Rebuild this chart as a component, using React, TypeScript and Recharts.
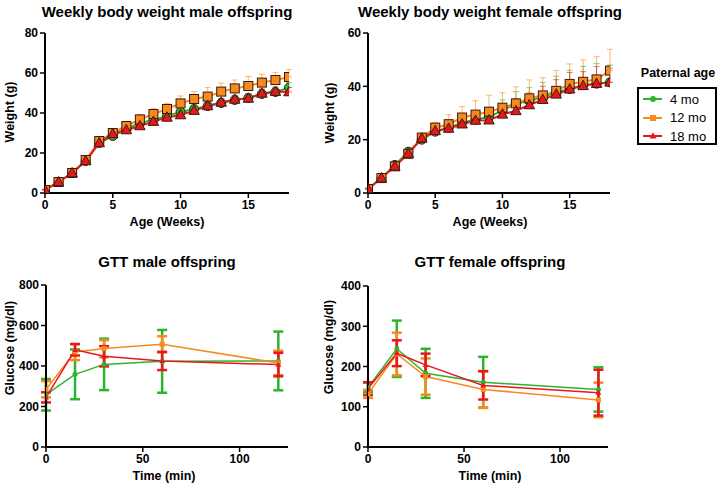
import React from 'react';
import { ComposedChart, Line, XAxis, YAxis, ErrorBar } from 'recharts';

// ---- data ----
const weeks = [0, 1, 2, 3, 4, 5, 6, 7, 8, 9, 10, 11, 12, 13, 14, 15, 16, 17, 18];

const maleW4 = [1.5, 5.5, 10, 16, 25, 28.5, 32, 35, 36.5, 38.5, 40.5, 42, 43.5, 45, 46.5, 47.5, 49.5, 50.5, 52.7];
const maleW12 = [1.5, 5.5, 10, 16.5, 26, 30, 33.5, 36.8, 39.5, 42, 44.8, 47, 48.2, 50.7, 52.3, 53.5, 55.2, 56.5, 58];
const maleW18 = [1.5, 5.5, 10, 16, 25, 29.5, 31.5, 33.5, 35.7, 37.8, 39, 41.2, 43.5, 45.3, 46.8, 47.3, 49.8, 50.7, 50.5];
const maleE4 = [0.3, 0.5, 0.6, 0.8, 1, 1.2, 1.3, 1.5, 1.6, 1.7, 1.8, 2, 2, 2, 2.2, 2.2, 2.3, 2.4, 2.5];
const maleE12 = [0.3, 0.5, 0.8, 1, 1.5, 1.5, 2, 2.5, 2.8, 2.8, 3.7, 3.7, 4.5, 4.2, 4.2, 4.7, 4.2, 3.8, 3.8];
const maleE18 = [0.3, 0.5, 0.6, 0.8, 1, 1.2, 1.3, 1.4, 1.5, 1.6, 1.7, 1.8, 1.9, 2, 2, 2.1, 2.2, 2.2, 2.3];

const femW4 = [1.5, 5.6, 10.5, 15.5, 20, 23, 24.5, 26.4, 27.5, 28.6, 30.9, 33.5, 34.5, 36, 37.8, 39, 40.5, 41, 41.5];
const femW12 = [1.5, 5.6, 10, 14.7, 20.8, 24.5, 25.8, 28.3, 29.4, 30.5, 32, 33.6, 35.5, 36.6, 38.3, 40.9, 41.7, 42.6, 45.9];
const femW18 = [1.5, 5.6, 10, 14.8, 20.5, 23.3, 24.2, 25.8, 27.2, 27.3, 29.5, 30.8, 33, 35, 37, 38.9, 40.2, 41, 41.5];
const femE4 = [0.3, 0.5, 1.5, 1.2, 1.5, 1.5, 2, 2.5, 3, 3.5, 4, 4.5, 5, 5.5, 6, 7, 7, 7.5, 6.5];
const femE12 = [0.3, 0.5, 1, 1.2, 1.5, 2, 3.5, 4.1, 5.2, 6.2, 5.6, 6.2, 6.9, 6.6, 7.6, 7.5, 8.2, 8.5, 8];
const femE18 = [0.3, 0.5, 1, 1.2, 1.5, 1.8, 2, 2.5, 3, 3.5, 4, 4.5, 4.5, 5, 5.5, 6.3, 5.3, 6.4, 5.3];

const gttTimes = [0, 15, 30, 60, 120];

const gttMale4 = [258, 359, 408, 423, 425];
const gttMale12 = [285, 469, 486, 507, 415];
const gttMale18 = [245, 480, 448, 425, 407];
const gttMaleE4 = [78, 123, 127, 155, 145];
const gttMaleE12 = [40, 40, 42, 40, 60];
const gttMaleE18 = [25, 28, 50, 45, 58];

const gttFem4 = [148, 244, 183, 161, 143];
const gttFem12 = [132, 231, 175, 143, 117];
const gttFem18 = [145, 233, 204, 153, 135];
const gttFemE4 = [12, 70, 61, 63, 55];
const gttFemE12 = [10, 53, 45, 46, 43];
const gttFemE18 = [16, 32, 28, 35, 57];

const legendItems = ['4 mo', '12 mo', '18 mo'];

// ---- styling ----
const GREEN = '#2cb52c';
const ORANGE = '#f78a1d';
const RED = '#e8171e';
const FONT = '"Liberation Sans", Arial, sans-serif';

const series = [
  { key: 'a', err: 'ea', color: GREEN, kind: 'circle' },
  { key: 'b', err: 'eb', color: ORANGE, kind: 'square' },
  { key: 'c', err: 'ec', color: RED, kind: 'triangle' },
];

const buildRows = (xs: number[], a: number[], b: number[], c: number[], ea: number[], eb: number[], ec: number[], upOnly: boolean) =>
  xs.map((x, i) => ({
    x,
    a: a[i],
    b: b[i],
    c: c[i],
    ea: upOnly ? [0, ea[i]] : ea[i],
    eb: upOnly ? [0, eb[i]] : eb[i],
    ec: upOnly ? [0, ec[i]] : ec[i],
  }));

const maleRows = buildRows(weeks, maleW4, maleW12, maleW18, maleE4, maleE12, maleE18, true);
const femRows = buildRows(weeks, femW4, femW12, femW18, femE4, femE12, femE18, true);
const gttMaleRows = buildRows(gttTimes, gttMale4, gttMale12, gttMale18, gttMaleE4, gttMaleE12, gttMaleE18, false);
const gttFemRows = buildRows(gttTimes, gttFem4, gttFem12, gttFem18, gttFemE4, gttFemE12, gttFemE18, false);

const Marker = ({ cx, cy, kind, fill, stroke, size }: any) => {
  if (cx == null || cy == null) return null;
  const h = size / 2;
  if (kind === 'circle') return <circle cx={cx} cy={cy} r={h} fill={fill} stroke={stroke} strokeWidth={1} />;
  if (kind === 'square')
    return <rect x={cx - h} y={cy - h} width={size} height={size} fill={fill} stroke={stroke} strokeWidth={1} />;
  const pts = `${cx},${cy - size * 0.62} ${cx - size * 0.58},${cy + size * 0.42} ${cx + size * 0.58},${cy + size * 0.42}`;
  return <polygon points={pts} fill={fill} stroke={stroke} strokeWidth={1} />;
};

const tickStyle = { fill: '#000', fontSize: 12, fontWeight: 700, fontFamily: FONT };

interface PanelProps {
  left: number;
  top: number;
  yAxisW: number;
  plotW: number;
  plotH: number;
  marginTop: number;
  data: any[];
  xDomain: number[];
  xTicks: number[];
  yDomain: number[];
  yTicks: number[];
  gtt?: boolean;
}

const Panel = ({ left, top, yAxisW, plotW, plotH, marginTop, data, xDomain, xTicks, yDomain, yTicks, gtt }: PanelProps) => {
  const right = 8;
  const xh = 22;
  return (
    <div style={{ position: 'absolute', left, top }}>
      <ComposedChart
        width={yAxisW + plotW + right}
        height={marginTop + plotH + xh}
        data={data}
        margin={{ top: marginTop, right, left: 0, bottom: 0 }}
      >
        <XAxis
          dataKey="x"
          type="number"
          domain={xDomain}
          ticks={xTicks}
          height={xh}
          axisLine={{ stroke: '#000', strokeWidth: 2 }}
          tickLine={{ stroke: '#000', strokeWidth: 1.5 }}
          tickSize={5}
          tick={tickStyle}
          allowDataOverflow
        />
        <YAxis
          type="number"
          domain={yDomain}
          ticks={yTicks}
          width={yAxisW}
          axisLine={{ stroke: '#000', strokeWidth: 2 }}
          tickLine={{ stroke: '#000', strokeWidth: 1.5 }}
          tickSize={5}
          tick={tickStyle}
          allowDataOverflow
        />
        {series.map((s) => (
          <Line
            key={s.key}
            dataKey={s.key}
            type="linear"
            stroke={s.color}
            strokeWidth={gtt ? 1.5 : 2}
            isAnimationActive={false}
            dot={(p: any) => (
              <Marker
                key={`${s.key}-${p.index}`}
                cx={p.cx}
                cy={p.cy}
                kind={s.kind}
                fill={s.color}
                stroke={gtt ? 'none' : '#3a1a10'}
                size={gtt ? 5 : 9}
              />
            )}
            activeDot={false}
          >
            <ErrorBar
              dataKey={s.err}
              direction="y"
              width={gtt ? 5 : 3}
              stroke={s.color}
              strokeWidth={gtt ? 2.5 : 1}
              strokeOpacity={gtt ? 1 : 0.6}
              isAnimationActive={false}
            />
          </Line>
        ))}
      </ComposedChart>
    </div>
  );
};

const Txt = ({ x, y, children, size = 12.5, rotate = false, weight = 700 }: any) => (
  <div
    style={{
      position: 'absolute',
      left: x,
      top: y,
      transform: `translate(-50%, -50%)${rotate ? ' rotate(-90deg)' : ''}`,
      whiteSpace: 'nowrap',
      fontFamily: FONT,
      fontWeight: weight,
      fontSize: size,
      color: '#000',
      lineHeight: 1,
    }}
  >
    {children}
  </div>
);

const Legend = () => {
  const colors = [GREEN, ORANGE, RED];
  const kinds = ['circle', 'square', 'triangle'];
  return (
    <>
      <Txt x={678} y={73} size={12.5}>Paternal age</Txt>
      <div
        style={{
          position: 'absolute',
          left: 637,
          top: 87,
          width: 76,
          height: 54,
          border: '2px solid #000',
          background: '#fff',
        }}
      >
        {legendItems.map((name, i) => (
          <div key={name} style={{ position: 'absolute', left: 3, top: 2 + i * 18.5, height: 16, display: 'flex', alignItems: 'center' }}>
            <svg width={22} height={16}>
              <line x1={1} y1={8} x2={20} y2={8} stroke={colors[i]} strokeWidth={2} />
              <Marker cx={11} cy={8} kind={kinds[i]} fill={colors[i]} stroke="none" size={6} />
            </svg>
            <span style={{ fontFamily: FONT, fontSize: 13, marginLeft: 6, color: '#000' }}>{name}</span>
          </div>
        ))}
      </div>
    </>
  );
};

export default function App() {
  return (
    <div style={{ position: 'absolute', left: 0, top: 0, width: 720, height: 488, background: '#fff', overflow: 'hidden' }}>
      <Txt x={167} y={11} size={15}>Weekly body weight male offspring</Txt>
      <Txt x={490} y={11} size={15}>Weekly body weight female offspring</Txt>
      <Txt x={167} y={261} size={15}>GTT male offspring</Txt>
      <Txt x={490} y={261} size={15}>GTT female offspring</Txt>

      <Panel left={0} top={0} yAxisW={45} plotW={244} plotH={160} marginTop={33} data={maleRows}
        xDomain={[0, 18]} xTicks={[0, 5, 10, 15]} yDomain={[0, 80]} yTicks={[0, 20, 40, 60, 80]} />
      <Panel left={320} top={0} yAxisW={48} plotW={242} plotH={160} marginTop={33} data={femRows}
        xDomain={[0, 18]} xTicks={[0, 5, 10, 15]} yDomain={[0, 60]} yTicks={[0, 20, 40, 60]} />
      <Panel left={0} top={250} yAxisW={46} plotW={242} plotH={162} marginTop={35} data={gttMaleRows} gtt
        xDomain={[0, 125]} xTicks={[0, 50, 100]} yDomain={[0, 800]} yTicks={[0, 200, 400, 600, 800]} />
      <Panel left={320} top={250} yAxisW={48} plotW={240} plotH={161} marginTop={36} data={gttFemRows} gtt
        xDomain={[0, 125]} xTicks={[0, 50, 100]} yDomain={[0, 400]} yTicks={[0, 100, 200, 300, 400]} />

      <Txt x={10} y={112} rotate>Weight (g)</Txt>
      <Txt x={330} y={113} rotate>Weight (g)</Txt>
      <Txt x={10} y={348} rotate>Glucose (mg/dl)</Txt>
      <Txt x={329} y={347} rotate>Glucose (mg/dl)</Txt>

      <Txt x={167} y={222}>Age (Weeks)</Txt>
      <Txt x={490} y={222}>Age (Weeks)</Txt>
      <Txt x={164} y={476}>Time (min)</Txt>
      <Txt x={490} y={476}>Time (min)</Txt>

      <Legend />
    </div>
  );
}
